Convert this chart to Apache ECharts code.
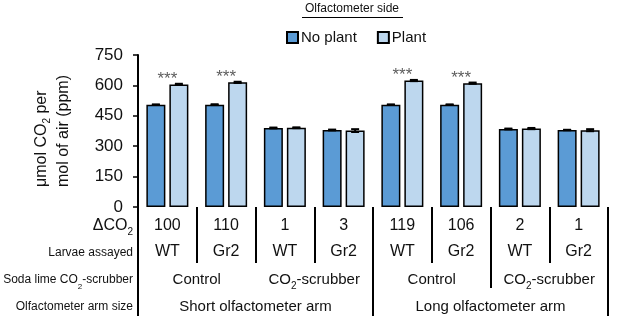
<!DOCTYPE html>
<html>
<head>
<meta charset="utf-8">
<script src="https://cdn.jsdelivr.net/npm/echarts@6/dist/echarts.min.js"></script>
<style>
  html, body { margin: 0; padding: 0; background: #fff; }
  #chart { width: 617px; height: 320px; }
</style>
</head>
<body>
<div id="chart"></div>
<script>
// values
var deltaCO2 = ['100', '110', '1', '3', '119', '106', '2', '1']
var larvae = ['WT', 'Gr2', 'WT', 'Gr2', 'WT', 'Gr2', 'WT', 'Gr2']
var scrubber = ['Control', 'CO2-scrubber', 'Control', 'CO2-scrubber']
var armSize = ['Short olfactometer arm', 'Long olfactometer arm']
var noPlant = [505, 505, 390, 380, 505, 505, 385, 380]
var plant = [605, 615, 391, 377, 624, 611, 387, 379]
var noPlantErr = [1, 2, 2, 2, 1, 1, 2, 1]
var plantErr = [3, 3, 2, 7, 3, 3, 3, 5]
var starGroups = [0, 1, 4, 5]
var yTicks = { min: 0, max: 750, step: 150 }

var BAR_W = 19
var BAR_GAP = 4
var DARK = '#5b9bd5'
var LIGHT = '#bdd7ee'
var INK = '#111'
var SUB = { fontSize: 10, verticalAlign: 'bottom', lineHeight: 22 }

function errData(vals, errs) {
  return vals.map(function (v, i) { return [i, v, errs[i]] })
}

function errorBar(side) {
  var shift = side * (BAR_W + BAR_GAP) / 2
  return function (params, api) {
    var c = api.coord([api.value(0), api.value(1)])
    var hi = api.coord([api.value(0), api.value(1) + api.value(2)])
    var lo = api.coord([api.value(0), api.value(1) - api.value(2)])
    var x = c[0] + shift
    var st = { stroke: '#000', lineWidth: 2 }
    return {
      type: 'group',
      children: [
        { type: 'line', shape: { x1: x, y1: hi[1], x2: x, y2: lo[1] }, style: st },
        { type: 'line', shape: { x1: x - 4, y1: hi[1], x2: x + 4, y2: hi[1] }, style: st },
        { type: 'line', shape: { x1: x - 4, y1: lo[1], x2: x + 4, y2: lo[1] }, style: st }
      ]
    }
  }
}

function co2(v) {
  return v.replace('CO2', 'CO{s|2}')
}

var chart = echarts.init(document.getElementById('chart'), null, { renderer: 'canvas' })

var tableAxis = function (data, margin, fontSize, tick) {
  return {
    type: 'category',
    position: 'bottom',
    offset: 0,
    data: data,
    axisLine: { show: false },
    axisTick: tick || { show: false },
    axisLabel: {
      interval: 0,
      margin: margin,
      verticalAlign: 'middle',
      fontSize: fontSize,
      fontFamily: 'Liberation Sans',
      color: INK,
      formatter: co2,
      rich: { s: { fontSize: 10, verticalAlign: 'bottom', lineHeight: 22, fontFamily: 'Liberation Sans', color: INK } }
    },
    splitLine: { show: false }
  }
}

var rowLabel = function (text, y, size) {
  return {
    type: 'text',
    x: 133,
    y: y,
    style: {
      text: text,
      align: 'right',
      verticalAlign: 'middle',
      fontSize: size,
      fontFamily: 'Liberation Sans',
      fill: INK,
      rich: { s: Object.assign({ fontFamily: 'Liberation Sans', fill: INK }, SUB, { fontSize: Math.round(size * 0.65) }) }
    }
  }
}

chart.setOption({
  animation: false,
  grid: { left: 138, right: 9, top: 55, bottom: 113, containLabel: false },
  legend: {
    data: ['No plant', 'Plant'],
    left: 281,
    top: 25,
    icon: 'rect',
    itemWidth: 11,
    itemHeight: 11,
    itemGap: 20,
    textStyle: { fontSize: 15, fontFamily: 'Liberation Sans', color: INK, padding: [0, 0, 0, -2] }
  },
  xAxis: [
    tableAxis(deltaCO2, 19, 16, {
      show: true, interval: 0, length: 56, lineStyle: { color: '#000', width: 2 }
    }),
    tableAxis(larvae, 45, 16),
    // only the Control / CO2-scrubber split of the long arm reaches this row
    tableAxis(scrubber, 73, 15, {
      show: true,
      interval: function (i) { return i === 0 || i === 3 },
      length: 81,
      lineStyle: { color: '#000', width: 2 }
    }),
    tableAxis(armSize, 100, 15, {
      show: true, interval: 0, length: 109, lineStyle: { color: '#000', width: 2 }
    })
  ],
  yAxis: {
    type: 'value',
    min: yTicks.min,
    max: yTicks.max,
    interval: yTicks.step,
    axisLine: { show: true, lineStyle: { color: '#000', width: 2 } },
    axisTick: { show: true, length: 5, lineStyle: { color: '#000', width: 1.5 } },
    axisLabel: { fontSize: 17, margin: 15, fontFamily: 'Liberation Sans', color: INK },
    splitLine: { show: false }
  },
  series: [
    {
      name: 'No plant',
      type: 'bar',
      xAxisIndex: 0,
      data: noPlant,
      barWidth: BAR_W,
      barGap: (BAR_GAP / BAR_W * 100) + '%',
      itemStyle: { color: DARK, borderColor: '#000', borderWidth: 1.5 }
    },
    {
      name: 'Plant',
      type: 'bar',
      xAxisIndex: 0,
      data: plant,
      barWidth: BAR_W,
      barGap: (BAR_GAP / BAR_W * 100) + '%',
      itemStyle: { color: LIGHT, borderColor: '#000', borderWidth: 1.5 }
    },
    {
      type: 'custom',
      xAxisIndex: 0,
      renderItem: errorBar(-1),
      encode: { x: 0, y: 1 },
      data: errData(noPlant, noPlantErr),
      z: 5
    },
    {
      type: 'custom',
      xAxisIndex: 0,
      renderItem: errorBar(1),
      encode: { x: 0, y: 1 },
      data: errData(plant, plantErr),
      z: 5
    },
    {
      type: 'scatter',
      xAxisIndex: 0,
      symbolSize: 0,
      data: starGroups.map(function (g) { return [g, plant[g] + plantErr[g]] }),
      label: {
        show: true,
        position: 'top',
        distance: -4,
        formatter: '***',
        fontSize: 17,
        fontFamily: 'Liberation Sans',
        color: '#333'
      }
    }
  ],
  graphic: [
    {
      type: 'text',
      x: 352,
      y: 9,
      style: {
        text: 'Olfactometer side',
        align: 'center',
        verticalAlign: 'middle',
        fontSize: 12,
        fontFamily: 'Liberation Sans',
        fill: INK
      }
    },
    {
      type: 'line',
      shape: { x1: 302, y1: 17.5, x2: 403, y2: 17.5 },
      style: { stroke: '#000', lineWidth: 1 }
    },
    {
      type: 'text',
      x: 52.5,
      y: 187,
      rotation: Math.PI / 2,
      style: {
        text: '{a|μmol CO}{s|2}{a| per}\n{a|mol of air (ppm)}',
        align: 'left',
        verticalAlign: 'middle',
        fill: INK,
        rich: {
          a: { fontSize: 16, lineHeight: 22, fontFamily: 'Liberation Sans', fill: INK },
          s: { fontSize: 10, lineHeight: 22, verticalAlign: 'bottom', fontFamily: 'Liberation Sans', fill: INK }
        }
      }
    },
    rowLabel('ΔCO{s|2}', 226, 16),
    rowLabel('Larvae assayed', 253, 12),
    rowLabel('Soda lime CO{s|2}-scrubber', 280, 12),
    rowLabel('Olfactometer arm size', 307, 12)
  ]
})
</script>
</body>
</html>
